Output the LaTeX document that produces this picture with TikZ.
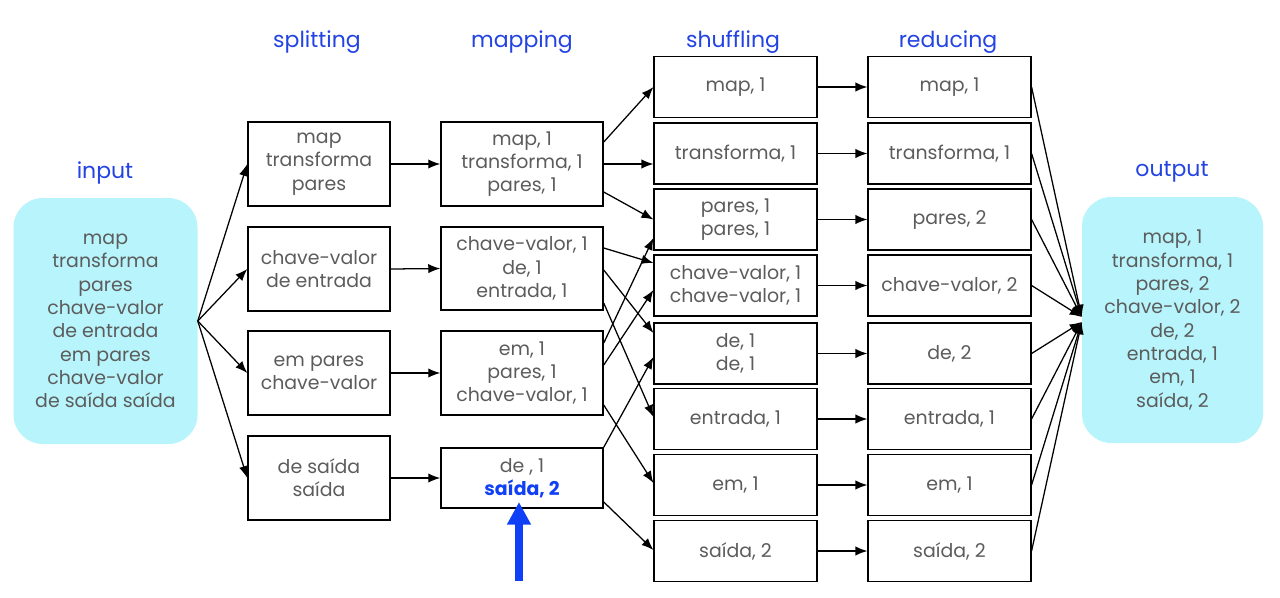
\documentclass[tikz,border=0pt]{standalone}
\usepackage{fontspec}
\setmainfont{Poppins}
\usetikzlibrary{arrows.meta,calc}
\definecolor{txt}{HTML}{5C5C5C}
\definecolor{hdr}{HTML}{2343E2}
\definecolor{cyanfill}{HTML}{B8F4FB}
\definecolor{bluearr}{HTML}{1040F5}
\begin{document}
\begin{tikzpicture}[x=0.75pt,y=-0.75pt,
  box/.style={draw=black,line width=1.1pt,fill=white,align=center,text=txt,
    font=\fontsize{14.2}{17.5}\selectfont,inner sep=0pt},
  splitbox/.style={box,minimum width=106.5pt,minimum height=63pt},
  mapbox/.style={box,minimum width=121.5pt,minimum height=63pt},
  shufbox/.style={box,minimum width=122pt,minimum height=45.75pt},
  endbox/.style={fill=cyanfill,rounded corners=22pt,align=center,text=txt,
    font=\fontsize{14.2}{17.5}\selectfont,inner sep=0pt,
    minimum width=138pt,minimum height=184.5pt},
  hdrlabel/.style={text=hdr,font=\fontsize{16.5}{19}\selectfont,inner sep=0pt},
  arr/.style={-{Latex[length=9pt,width=7pt]},line width=0.95pt,black}
]
\useasboundingbox (0,0) rectangle (1280,597);

% headers
\node[hdrlabel] (hin)  at (105,173) {input};
\node[hdrlabel] (hsp)  at (317,42) {splitting};
\node[hdrlabel] (hmp)  at (522,42) {mapping};
\node[hdrlabel] (hsh)  at (733,42) {shuffling};
\node[hdrlabel] (hre)  at (948,42) {reducing};
\node[hdrlabel] (hout) at (1172,172) {output};

% input / output
\node[endbox] (inp) at (105.5,321) {map\\transforma\\pares\\chave-valor\\de entrada\\em pares\\chave-valor\\de saída saída};
\node[endbox,minimum width=135.75pt] (out) at (1172.5,320) {map, 1\\transforma, 1\\pares, 2\\chave-valor, 2\\de, 2\\entrada, 1\\em, 1\\saída, 2};

% splitting
\node[splitbox] (sp1) at (319,164) {map\\transforma\\pares};
\node[splitbox] (sp2) at (319,269) {chave-valor\\de entrada};
\node[splitbox] (sp3) at (319,373) {em pares\\chave-valor};
\node[splitbox] (sp4) at (319,478) {de saída\\saída};

% mapping
\node[mapbox] (m1) at (522,164) {map, 1\\transforma, 1\\pares, 1};
\node[mapbox,minimum height=62pt] (m2) at (522,268.5) {chave-valor, 1\\de, 1\\entrada, 1};
\node[mapbox] (m3) at (522,373) {em, 1\\pares, 1\\chave-valor, 1};
\node[mapbox,minimum height=45pt] (m4) at (522,478) {de , 1\\\textbf{\color{bluearr}saída, 2}};

% shuffling
\node[shufbox] (s1) at (735.5,87)    {map, 1};
\node[shufbox] (s2) at (735.5,153.5) {transforma, 1};
\node[shufbox] (s3) at (735.5,219.5) {pares, 1\\pares, 1};
\node[shufbox] (s4) at (735.5,285.5) {chave-valor, 1\\chave-valor, 1};
\node[shufbox] (s5) at (735.5,353.5) {de, 1\\de, 1};
\node[shufbox] (s6) at (735.5,419)   {entrada, 1};
\node[shufbox] (s7) at (735.5,485)   {em, 1};
\node[shufbox] (s8) at (735.5,551)   {saída, 2};

% reducing
\node[shufbox] (r1) at (949.5,87)    {map, 1};
\node[shufbox] (r2) at (949.5,153.5) {transforma, 1};
\node[shufbox] (r3) at (949.5,219.5) {pares, 2};
\node[shufbox] (r4) at (949.5,285.5) {chave-valor, 2};
\node[shufbox] (r5) at (949.5,353.5) {de, 2};
\node[shufbox] (r6) at (949.5,419)   {entrada, 1};
\node[shufbox] (r7) at (949.5,485)   {em, 1};
\node[shufbox] (r8) at (949.5,551)   {saída, 2};

% input -> splitting
\foreach \i in {1,...,4} \draw[arr] (inp.east) -- (sp\i.west);
% splitting -> mapping
\foreach \i in {1,...,4} \draw[arr] (sp\i.east) -- (m\i.west);

% mapping -> shuffling
\draw[arr] ($(m1.east)+(0,-22)$) -- (s1.west);
\draw[arr] (m1.east) -- ($(s2.west)+(0,10.5)$);
\draw[arr] ($(m1.east)+(0,28)$) -- (s3.west);
\draw[arr] ($(m2.east)+(0,-20.5)$) -- ($(s4.west)+(0,-22.5)$);
\draw[arr] ($(m2.east)+(0,1.5)$) -- ($(s5.west)+(0,-20.5)$);
\draw[arr] ($(m2.east)+(0,34.5)$) -- ($(s6.west)+(0,-2)$);
\draw[arr] ($(m3.east)+(0,-30)$) -- ($(s3.west)+(0,18.5)$);
\draw[arr] ($(m3.east)+(0,-8)$) -- ($(s4.west)+(0,4.5)$);
\draw[arr] ($(m3.east)+(0,32)$) -- ($(s7.west)+(0,-2)$);
\draw[arr] (m4.north east) -- ($(s5.west)+(0,3.5)$);
\draw[arr] ($(m4.east)+(0,24)$) -- ($(s8.west)+(0,-1)$);

% shuffling -> reducing
\foreach \i in {1,...,8} \draw[arr] (s\i.east) -- (r\i.west);

% reducing -> output
\foreach \i in {1,...,4} \draw[arr] (r\i.east) -- ($(out.west)+(0,-3)$);
\foreach \i in {5,...,8} \draw[arr] (r\i.east) -- ($(out.west)+(0,2)$);

% blue highlight arrow
\coordinate (bstart) at (519,581);
\coordinate (btip) at (519,502);
\draw[bluearr,line width=6pt,-{Triangle[length=17pt,width=17pt]}] (bstart) -- (btip);
\end{tikzpicture}
\end{document}
